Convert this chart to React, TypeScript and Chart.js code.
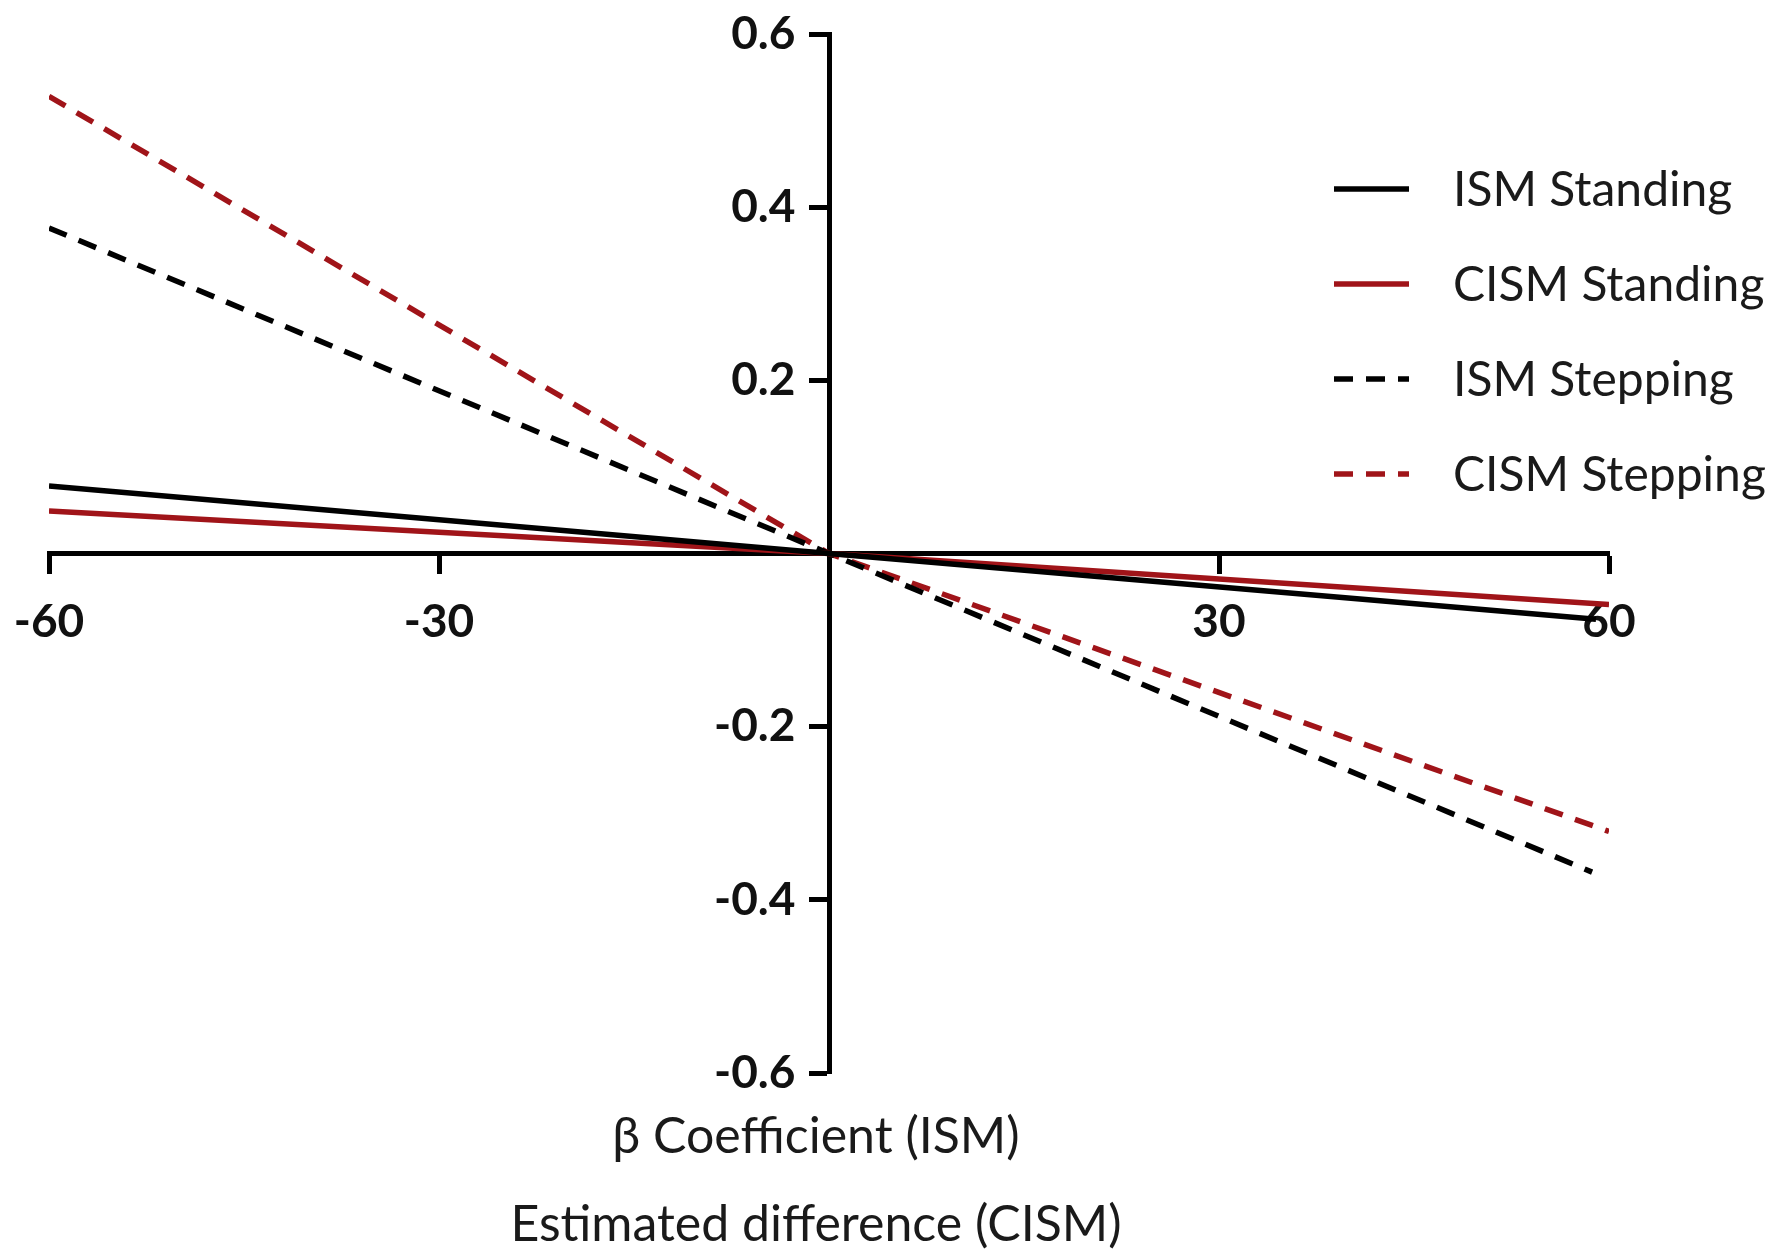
import React, { useEffect, useRef } from 'react';
import { Chart, registerables, Plugin, Scale } from 'chart.js';

Chart.register(...registerables);

// series (x = difference, y = coefficient)
const ismStandingX = [-60, 0, 59];
const ismStandingY = [0.078, 0, -0.076];
const cismStandingX = [-60, 0, 60];
const cismStandingY = [0.049, 0, -0.059];
const ismSteppingX = [-60, 0, 58.7];
const ismSteppingY = [0.376, 0, -0.368];
const cismSteppingX = [-60, 0, 60];
const cismSteppingY = [0.528, 0, -0.321];

const seriesLabels = ['ISM Standing', 'CISM Standing', 'ISM Stepping', 'CISM Stepping'];
const axisTitles = ['β Coefficient (ISM)', 'Estimated difference (CISM)'];

const BLACK = '#000000';
const RED = '#a01419';
const DASH = [19, 13];
const LINE_WIDTH = 5.5;

const toPoints = (xs: number[], ys: number[]) => xs.map((x, i) => ({ x, y: ys[i] }));

// the end labels would otherwise push the plot area inwards
const noLabelPadding = (scale: Scale) => {
    scale.paddingLeft = 0;
    scale.paddingRight = 0;
    scale.paddingTop = 0;
    scale.paddingBottom = 0;
};

// legend and the two stacked axis titles are drawn by hand
const extrasPlugin: Plugin<'line'> = {
    id: 'extras',
    afterDraw(chart) {
        const { ctx, chartArea } = chart;
        const xZero = chart.scales.x.getPixelForValue(0);

        ctx.save();
        ctx.fillStyle = '#1a1a1a';
        ctx.font = '50px Lato, "Open Sans", sans-serif';
        ctx.textAlign = 'center';
        ctx.textBaseline = 'alphabetic';
        ctx.fillText(axisTitles[0], xZero - 13, chartArea.bottom + 80);
        ctx.fillText(axisTitles[1], xZero - 13, chartArea.bottom + 168);

        // legend
        const lineStart = chartArea.right - 275;
        const lineEnd = lineStart + 75;
        const textX = lineStart + 119;
        ctx.font = '48px Lato, "Open Sans", sans-serif';
        ctx.textAlign = 'left';
        ctx.textBaseline = 'middle';
        chart.data.datasets.forEach((ds: any, i) => {
            const y = chartArea.top + 155 + i * 95;
            ctx.beginPath();
            ctx.strokeStyle = ds.borderColor;
            ctx.lineWidth = LINE_WIDTH;
            ctx.setLineDash(ds.borderDash || []);
            ctx.moveTo(lineStart, y);
            ctx.lineTo(lineEnd, y);
            ctx.stroke();
            ctx.setLineDash([]);
            ctx.fillStyle = '#1a1a1a';
            ctx.fillText(ds.label, textX, y + 2);
        });
        ctx.restore();
    },
};

const App: React.FC = () => {
    const chartRef = useRef<HTMLCanvasElement | null>(null);

    useEffect(() => {
        const ctx = chartRef.current?.getContext('2d');
        if (!ctx) {
            return;
        }

        const tickFont = { family: 'Lato, "Open Sans", sans-serif', size: 46, weight: 'bold' as const };

        const myChart = new Chart(ctx, {
            type: 'line',
            data: {
                datasets: [
                    {
                        label: seriesLabels[0],
                        data: toPoints(ismStandingX, ismStandingY),
                        borderColor: BLACK,
                        borderWidth: LINE_WIDTH,
                        pointRadius: 0,
                    },
                    {
                        label: seriesLabels[1],
                        data: toPoints(cismStandingX, cismStandingY),
                        borderColor: RED,
                        borderWidth: LINE_WIDTH,
                        pointRadius: 0,
                    },
                    {
                        label: seriesLabels[2],
                        data: toPoints(ismSteppingX, ismSteppingY),
                        borderColor: BLACK,
                        borderWidth: LINE_WIDTH,
                        borderDash: DASH,
                        pointRadius: 0,
                    },
                    {
                        label: seriesLabels[3],
                        data: toPoints(cismSteppingX, cismSteppingY),
                        borderColor: RED,
                        borderWidth: LINE_WIDTH,
                        borderDash: DASH,
                        pointRadius: 0,
                    },
                ],
            },
            options: {
                animation: false,
                responsive: true,
                maintainAspectRatio: false,
                layout: {
                    padding: { top: 34, left: 49, right: 169, bottom: 186 },
                },
                plugins: {
                    legend: { display: false },
                    tooltip: { enabled: false },
                },
                scales: {
                    x: {
                        type: 'linear',
                        min: -60,
                        max: 60,
                        position: { y: 0 } as any,
                        afterFit: noLabelPadding,
                        border: { display: true, color: BLACK, width: 5 },
                        grid: {
                            drawOnChartArea: false,
                            drawTicks: true,
                            tickLength: 18,
                            tickWidth: 5,
                            tickColor: BLACK,
                        },
                        ticks: {
                            stepSize: 30,
                            color: '#111',
                            font: tickFont,
                            padding: 23,
                            maxRotation: 0,
                            callback: (v) => (Number(v) === 0 ? '' : String(v)),
                        },
                    },
                    y: {
                        type: 'linear',
                        min: -0.6,
                        max: 0.6,
                        position: { x: 0 } as any,
                        afterFit: noLabelPadding,
                        border: { display: true, color: BLACK, width: 5 },
                        grid: {
                            drawOnChartArea: false,
                            drawTicks: true,
                            tickLength: 18,
                            tickWidth: 5,
                            tickColor: BLACK,
                        },
                        ticks: {
                            stepSize: 0.2,
                            color: '#111',
                            font: tickFont,
                            // labels of a centred y axis sit right on the line, so pad them with spaces
                            callback: (v) => {
                                const n = Math.round(Number(v) * 10) / 10;
                                return n === 0 ? '' : n.toFixed(1) + '   ';
                            },
                        },
                    },
                },
            },
            plugins: [extrasPlugin],
        });

        return () => {
            myChart.destroy();
        };
    }, []);

    return (
        <div style={{ position: 'fixed', left: 0, top: 0, width: 1778, height: 1259, background: '#fff' }}>
            <canvas ref={chartRef} />
        </div>
    );
};

export default App;
